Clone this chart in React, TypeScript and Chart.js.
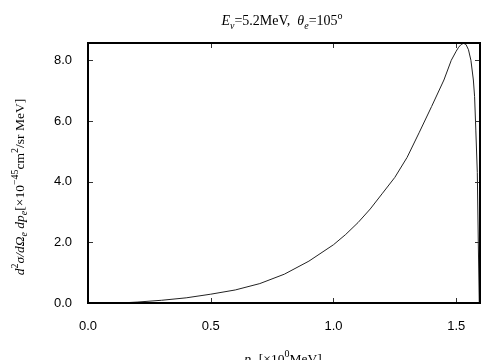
import React, { useEffect, useRef } from "react";
import { Chart, registerables } from "chart.js";

Chart.register(...registerables);

const momentum = [0.13, 0.2, 0.3, 0.4, 0.5, 0.6, 0.7, 0.8, 0.9, 1.0, 1.05, 1.1, 1.15, 1.2, 1.25, 1.3, 1.35, 1.4, 1.45, 1.48, 1.5, 1.51, 1.52, 1.53, 1.54, 1.55, 1.56, 1.57, 1.575, 1.58, 1.586, 1.59, 1.594];
const crossSection = [0, 0.03, 0.09, 0.17, 0.29, 0.43, 0.64, 0.95, 1.38, 1.92, 2.26, 2.65, 3.1, 3.62, 4.14, 4.8, 5.63, 6.48, 7.35, 8.0, 8.3, 8.43, 8.52, 8.56, 8.52, 8.35, 8.0, 7.35, 6.8, 5.7, 4.3, 2.0, 0];
const xTicks = [0, 0.5, 1.0, 1.5];
const yTicks = [0, 2, 4, 6, 8];
const xMax = 1.597;
const yMax = 8.57;

type Seg = { t: string; it?: boolean; pos?: "sub" | "sup" };

const titleSegs: Seg[] = [
  { t: "E", it: true }, { t: "ν", it: true, pos: "sub" }, { t: "=5.2MeV,  " },
  { t: "θ", it: true }, { t: "e", it: true, pos: "sub" }, { t: "=105" }, { t: "o", pos: "sup" },
];
const yLabelSegs: Seg[] = [
  { t: "d", it: true }, { t: "2", pos: "sup" }, { t: "σ/dΩ", it: true }, { t: "e", it: true, pos: "sub" },
  { t: " dp", it: true }, { t: "e", it: true, pos: "sub" }, { t: "[×10" }, { t: "−45", pos: "sup" },
  { t: "cm" }, { t: "2", pos: "sup" }, { t: "/sr MeV]" },
];
const xLabelSegs: Seg[] = [
  { t: "p", it: true }, { t: "e", it: true, pos: "sub" }, { t: " [×10" }, { t: "0", pos: "sup" }, { t: "MeV]" },
];

function fontFor(s: Seg, size: number) {
  const sz = s.pos ? Math.round(size * 0.72) : size;
  return `${s.it ? "italic " : ""}${sz}px "Liberation Serif", "Times New Roman", serif`;
}

function drawRich(ctx: CanvasRenderingContext2D, segs: Seg[], size: number) {
  let w = 0;
  for (const s of segs) {
    ctx.font = fontFor(s, size);
    w += ctx.measureText(s.t).width;
  }
  let x = -w / 2;
  ctx.textAlign = "left";
  ctx.textBaseline = "alphabetic";
  for (const s of segs) {
    ctx.font = fontFor(s, size);
    const dy = s.pos === "sub" ? size * 0.25 : s.pos === "sup" ? -size * 0.42 : 0;
    ctx.fillText(s.t, x, dy);
    x += ctx.measureText(s.t).width;
  }
}

const framePlugin = {
  id: "frame",
  afterDraw(chart: any) {
    const ctx: CanvasRenderingContext2D = chart.ctx;
    const { left, right, top, bottom } = chart.chartArea;
    const xs = chart.scales.x;
    const ys = chart.scales.y;
    ctx.save();
    ctx.strokeStyle = "#333";
    ctx.lineWidth = 1;
    const tl = 5;
    ctx.beginPath();
    for (const v of xTicks) {
      const px = Math.round(xs.getPixelForValue(v)) + 0.5;
      ctx.moveTo(px, bottom); ctx.lineTo(px, bottom - tl);
      ctx.moveTo(px, top); ctx.lineTo(px, top + tl);
    }
    for (const v of yTicks) {
      const py = Math.round(ys.getPixelForValue(v)) + 0.5;
      ctx.moveTo(left, py); ctx.lineTo(left + tl, py);
      ctx.moveTo(right, py); ctx.lineTo(right - tl, py);
    }
    ctx.stroke();
    ctx.strokeStyle = "#000";
    ctx.lineWidth = 2;
    ctx.strokeRect(left, top, right - left, bottom - top);
    ctx.fillStyle = "#000";
    ctx.save();
    ctx.translate((left + right) / 2 - 2, 25);
    drawRich(ctx, titleSegs, 14);
    ctx.restore();
    ctx.save();
    ctx.translate((left + right) / 2 - 1, 363);
    drawRich(ctx, xLabelSegs, 13.5);
    ctx.restore();
    ctx.save();
    ctx.translate(24, 187);
    ctx.rotate(-Math.PI / 2);
    drawRich(ctx, yLabelSegs, 13.5);
    ctx.restore();
    ctx.restore();
  },
};

export default function App() {
  const ref = useRef<HTMLCanvasElement>(null);
  useEffect(() => {
    if (!ref.current) return;
    const tickFont = { family: '"Liberation Sans", Arial, sans-serif', size: 13 };
    const chart = new Chart(ref.current, {
      type: "line",
      data: {
        datasets: [
          {
            data: momentum.map((x, i) => ({ x, y: crossSection[i] })),
            borderColor: "#222",
            borderWidth: 1,
            pointRadius: 0,
            tension: 0,
            fill: false,
          },
        ],
      },
      options: {
        responsive: false,
        animation: false,
        layout: { padding: { left: 0, right: 24, top: 43, bottom: 0 } },
        plugins: { legend: { display: false }, tooltip: { enabled: false }, title: { display: false } },
        scales: {
          x: {
            type: "linear",
            min: 0,
            max: xMax,
            grid: { display: false },
            border: { display: false },
            afterFit: (s: any) => { s.height = 57; },
            afterBuildTicks: (s: any) => { s.ticks = xTicks.map((v) => ({ value: v })); },
            ticks: { color: "#000", font: tickFont, padding: 8, maxRotation: 0, callback: (v: any) => Number(v).toFixed(1) },
          },
          y: {
            type: "linear",
            min: 0,
            max: yMax,
            grid: { display: false },
            border: { display: false },
            afterFit: (s: any) => { s.width = 88; },
            afterBuildTicks: (s: any) => { s.ticks = yTicks.map((v) => ({ value: v })); },
            ticks: { color: "#000", font: tickFont, padding: 8, callback: (v: any) => Number(v).toFixed(1) },
          },
        },
      },
      plugins: [framePlugin],
    } as any);
    return () => chart.destroy();
  }, []);
  return (
    <div style={{ position: "absolute", left: 0, top: 0, width: 504, height: 360, background: "#fff" }}>
      <canvas ref={ref} width={504} height={360} style={{ display: "block" }} />
    </div>
  );
}
